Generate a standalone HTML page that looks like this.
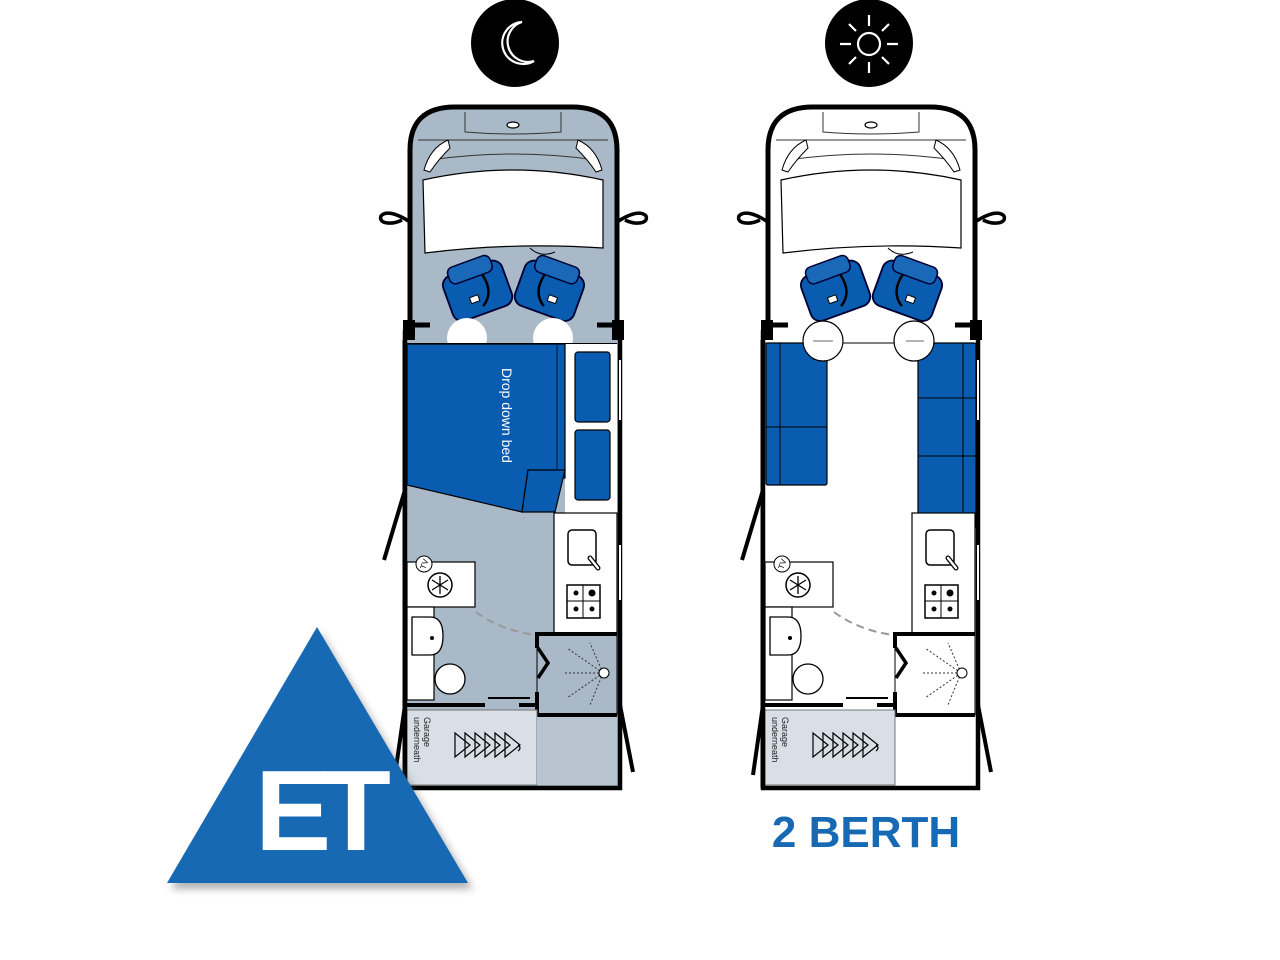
<!DOCTYPE html>
<html><head><meta charset="utf-8"><style>
html,body{margin:0;padding:0;background:#fff;}
svg{display:block}
</style></head><body>
<svg width="1280" height="960" viewBox="0 0 1280 960" xmlns="http://www.w3.org/2000/svg" font-family="Liberation Sans, sans-serif">
<defs>
  <filter id="sh" x="-20%" y="-20%" width="140%" height="140%"><feGaussianBlur stdDeviation="4"/></filter>
  <g id="cab">
    <path d="M410 222 C398 214 386 210 381 216 C378 224 392 225 402 220" fill="#fff" stroke="#000" stroke-width="3.5"/>
    <path d="M617 222 C629 214 641 210 646 216 C649 224 635 225 625 220" fill="#fff" stroke="#000" stroke-width="3.5"/>
    <path d="M423 180 Q513 160 603 180 L603 248 Q513 242 425 253 Z" fill="#fff" stroke="#000" stroke-width="1.2"/>
    <path d="M530 248 Q540 258 555 252" fill="none" stroke="#000" stroke-width="1"/>
    <path d="M430 160 Q513 148 596 160" fill="none" stroke="#333" stroke-width="1"/>
    <path d="M418 140 L608 140" fill="none" stroke="#333" stroke-width="1"/>
    <path d="M465 112 L465 132 Q513 136 561 132 L561 112" fill="none" stroke="#333" stroke-width="1"/>
    <ellipse cx="513" cy="125" rx="6" ry="3" fill="#fff" stroke="#000" stroke-width="1.2"/>
    <path d="M424 170 Q430 148 448 140 L450 148 Q438 160 430 172 Z" fill="#fff" stroke="#000" stroke-width="1"/>
    <path d="M602 170 Q596 148 578 140 L576 148 Q588 160 596 172 Z" fill="#fff" stroke="#000" stroke-width="1"/>
  </g>
  <g id="seats">
    <g transform="translate(478,292) rotate(-20) scale(1.25)">
      <rect x="-25" y="-20" width="50" height="38" rx="8" fill="#0a5cb0" stroke="#003" stroke-width="1.5"/>
      <rect x="-18" y="-26" width="36" height="14" rx="5" fill="#1a68b8" stroke="#003" stroke-width="1.2"/>
      <path d="M8 -12 Q12 5 0 12" fill="none" stroke="#000" stroke-width="2"/>
      <rect x="-8" y="2" width="7" height="5" fill="#fff" stroke="#000" stroke-width="0.8"/>
    </g>
    <g transform="translate(549,292) rotate(20) scale(1.25)">
      <rect x="-25" y="-20" width="50" height="38" rx="8" fill="#0a5cb0" stroke="#003" stroke-width="1.5"/>
      <rect x="-18" y="-26" width="36" height="14" rx="5" fill="#1a68b8" stroke="#003" stroke-width="1.2"/>
      <path d="M-8 -12 Q-12 5 0 12" fill="none" stroke="#000" stroke-width="2"/>
      <rect x="1" y="2" width="7" height="5" fill="#fff" stroke="#000" stroke-width="0.8"/>
    </g>
  </g>
  <g id="rear">
    <rect x="554" y="513" width="63" height="120" fill="#fff" stroke="#000" stroke-width="1.2"/>
    <rect x="568" y="530" width="28" height="35" rx="4" fill="#fff" stroke="#000" stroke-width="1.5"/>
    <line x1="590" y1="558" x2="598" y2="568" stroke="#000" stroke-width="5" stroke-linecap="round"/>
    <line x1="590" y1="558" x2="598" y2="568" stroke="#fff" stroke-width="2.5" stroke-linecap="round"/>
    <rect x="567" y="585" width="33" height="33" fill="#fff" stroke="#000" stroke-width="1.5"/>
    <line x1="567" y1="601" x2="600" y2="601" stroke="#000"/><line x1="583" y1="585" x2="583" y2="618" stroke="#000"/>
    <circle cx="576" cy="593" r="2.5"/><circle cx="592" cy="593" r="3.5"/><circle cx="576" cy="609" r="2.5"/><circle cx="592" cy="609" r="2.5"/>
    <rect x="407" y="562" width="68" height="45" fill="#fff" stroke="#000" stroke-width="1.2"/>
    <circle cx="424" cy="564" r="8" fill="#fff" stroke="#000"/>
    <text x="424" y="567" font-size="8" text-anchor="middle" transform="rotate(-70 424 564)">TV</text>
    <circle cx="440" cy="585" r="12" fill="#fff" stroke="#000" stroke-width="1.5"/>
    <path d="M440 576 V594 M432 580 L448 590 M432 590 L448 580" stroke="#000" stroke-width="1.3"/>
    <rect x="407" y="607" width="27" height="93" fill="#fff" stroke="#000" stroke-width="1.2"/>
    <path d="M412 617 H430 Q443 617 443 636 Q443 655 430 655 H412 Z" fill="#fff" stroke="#000" stroke-width="1.3"/>
    <circle cx="432" cy="638" r="2"/>
    <circle cx="450" cy="679" r="15" fill="#fff" stroke="#000" stroke-width="1.3"/>
    <path d="M476 612 Q500 630 535 635" fill="none" stroke="#999" stroke-width="2" stroke-dasharray="8 5"/>
    <path d="M537 633 H617 V715 H537 Z" fill="none" stroke="#000" stroke-width="1"/>
    <path d="M617 634 H537 V648 M537 692 V715 H617" fill="none" stroke="#000" stroke-width="4"/>
    <path d="M538 648 L548 663 L538 678" fill="none" stroke="#000" stroke-width="3.5"/>
    <g stroke="#333" stroke-width="1" stroke-dasharray="2 2">
      <line x1="603" y1="673" x2="565" y2="673"/><line x1="603" y1="673" x2="567" y2="648"/><line x1="603" y1="673" x2="567" y2="698"/>
      <line x1="603" y1="673" x2="590" y2="643"/><line x1="603" y1="673" x2="590" y2="705"/>
    </g>
    <circle cx="604" cy="673" r="5" fill="#fff" stroke="#000"/>
    <path d="M407 705 H485 M519 705 H537" stroke="#000" stroke-width="4"/>
    <line x1="488" y1="698" x2="530" y2="698" stroke="#000" stroke-width="2"/>
    <rect x="407" y="710" width="130" height="75" fill="#d8dfe6" stroke="#777" stroke-width="1"/>
    <text transform="translate(424 717) rotate(90)" font-size="9" fill="#222">Garage</text>
    <text transform="translate(414 717) rotate(90)" font-size="9" fill="#222">underneath</text>
    <g fill="none" stroke="#000" stroke-width="1.2">
      <path d="M455 733 L470 745 L455 757 Z"/><path d="M465 733 L480 745 L465 757 Z"/><path d="M475 733 L490 745 L475 757 Z"/>
      <path d="M485 733 L500 745 L485 757 Z"/><path d="M495 733 L510 745 L495 757 Z"/><path d="M505 733 L520 745 L505 757 Z"/>
      <path d="M518 745 Q522 748 518 751"/>
    </g>
  </g>
  <g id="shell" fill="none" stroke="#000">
    <path d="M410 325 V150 Q410 107 455 107 H572 Q617 107 617 150 V325" stroke-width="5"/>
    <path d="M403 325 H430 M597 325 H622" stroke-width="5"/>
    <rect x="403" y="320" width="12" height="20" fill="#000" stroke="none"/>
    <rect x="612" y="320" width="12" height="20" fill="#000" stroke="none"/>
    <path d="M405 330 V788 H620 V330" stroke-width="4.5"/>
    <line x1="403" y1="340" x2="403" y2="788" stroke-width="1"/>
    <path d="M405 490 L384 560" stroke-width="4"/>
    <path d="M405 705 L395 775" stroke-width="4"/>
    <path d="M620 705 L633 772" stroke-width="4"/>
    <line x1="620" y1="360" x2="620" y2="420" stroke="#fff" stroke-width="2"/>
    <line x1="620" y1="545" x2="620" y2="600" stroke="#fff" stroke-width="2"/>
  </g>
</defs>

<circle cx="515" cy="43" r="44" fill="#000"/>
<path d="M522 22 A21 21 0 1 0 534 61 A18 18 0 1 1 522 22 Z" fill="none" stroke="#fff" stroke-width="2.2"/>
<circle cx="869" cy="43" r="44" fill="#000"/>
<g stroke="#fff" stroke-width="2.2" fill="none">
  <circle cx="869" cy="44" r="11"/>
  <path d="M869 15 V26 M869 62 V73 M840 44 H851 M887 44 H898 M849 24 L856 31 M882 57 L889 64 M889 24 L882 31 M856 57 L849 64"/>
</g>

<path d="M410 325 V150 Q410 107 455 107 H572 Q617 107 617 150 V330 H405 Z" fill="#a9b9c7"/>
<rect x="405" y="330" width="215" height="458" fill="#a9b9c7"/>
<rect x="565" y="343" width="52" height="170" fill="#fff"/>
<use href="#cab"/>
<use href="#seats"/>
<circle cx="467" cy="338" r="20" fill="#fff"/><circle cx="553" cy="338" r="20" fill="#fff"/>
<rect x="405" y="343" width="212" height="1" fill="#000"/>
<path d="M407 344 H565 V478 L528 470 L522 512 L407 485 Z" fill="#0a5cb0" stroke="#000" stroke-width="1.2"/>
<path d="M528 470 L565 470 L555 512 L522 512 Z" fill="#0a5cb0" stroke="#000" stroke-width="1.2"/>
<line x1="557" y1="344" x2="557" y2="470" stroke="#002a5a" stroke-width="1.5"/>
<text transform="translate(502 368) rotate(90)" font-size="14" fill="#fff">Drop down bed</text>
<rect x="575" y="352" width="35" height="70" rx="3" fill="#0a5cb0" stroke="#000" stroke-width="1.2"/>
<rect x="575" y="430" width="35" height="70" rx="3" fill="#0a5cb0" stroke="#000" stroke-width="1.2"/>
<use href="#rear"/>
<rect x="537" y="717" width="80" height="68" fill="#b8c5d0"/>
<use href="#shell"/>

<g transform="translate(358 0)">
  <use href="#cab"/>
  <use href="#seats"/>
  <line x1="405" y1="343" x2="617" y2="343" stroke="#000"/>
  <rect x="408" y="343" width="61" height="142" rx="2" fill="#0a5cb0" stroke="#000" stroke-width="1.2"/>
  <path d="M422 343 V485 M408 427 H469" stroke="#000" stroke-width="1"/>
  <rect x="560" y="343" width="58" height="185" rx="2" fill="#0a5cb0" stroke="#000" stroke-width="1.2"/>
  <path d="M605 343 V528 M560 398 H618 M560 456 H618" stroke="#000" stroke-width="1"/>
  <circle cx="465" cy="341" r="20" fill="#fff" stroke="#000" stroke-width="1.2"/>
  <circle cx="556" cy="341" r="20" fill="#fff" stroke="#000" stroke-width="1.2"/>
  <path d="M455 341 H475 M548 341 H566" stroke="#888" stroke-width="1.2"/>
  <use href="#rear"/>
  <use href="#shell"/>
</g>

<polygon points="171,889 321,633 473,889" fill="#555" opacity="0.45" filter="url(#sh)"/>
<polygon points="167,883 317,627 468,883" fill="#1769b4"/>
<text x="318" y="850" font-size="114" font-weight="bold" fill="#fff" text-anchor="middle" letter-spacing="-10">ET</text>

<text x="866" y="847" font-size="44" font-weight="bold" fill="#1769b4" text-anchor="middle">2 BERTH</text>
</svg>
</body></html>
